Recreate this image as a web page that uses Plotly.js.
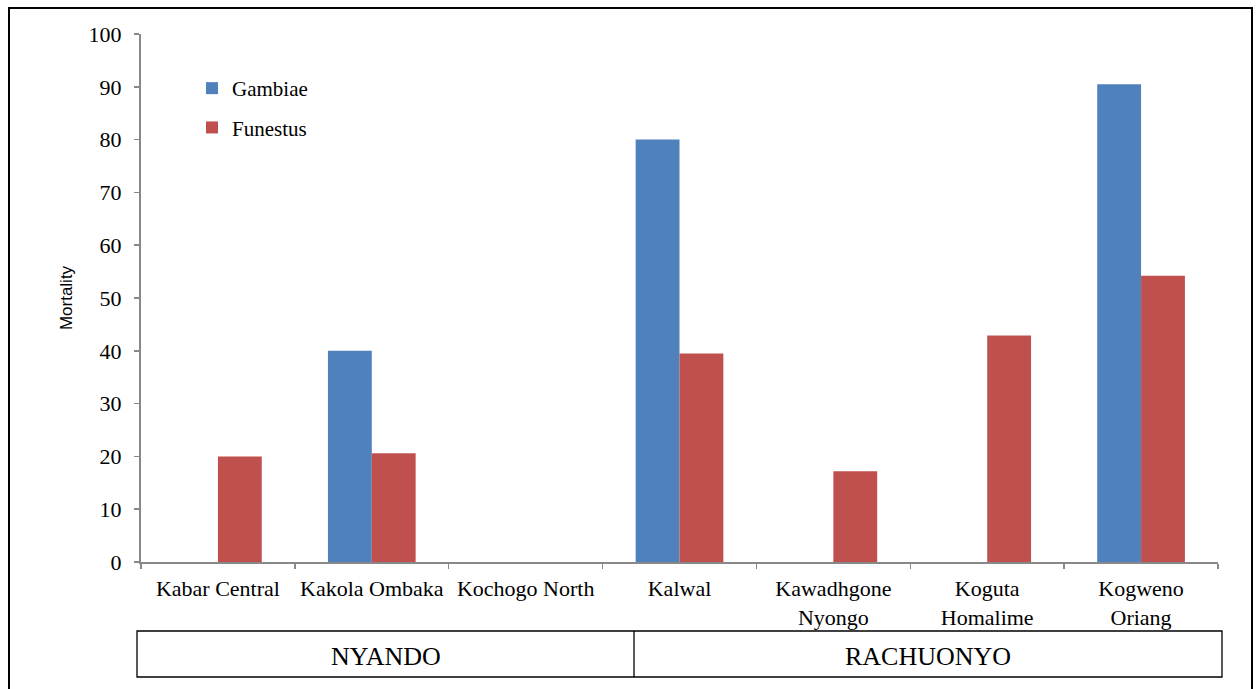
<!DOCTYPE html>
<html>
<head>
<meta charset="utf-8">
<script src="https://cdn.plot.ly/plotly-3.0.1.min.js"></script>
<style>html,body{margin:0;padding:0;background:#fff;}#chart{width:1257px;height:689px;}</style>
</head>
<body>
<div id="chart"></div>
<script>
var categories = ["Kabar Central", "Kakola Ombaka", "Kochogo North", "Kalwal", "Kawadhgone<br>Nyongo", "Koguta<br>Homalime", "Kogweno<br>Oriang"];
var gambiae = [0, 40.0, 0, 80.0, 0, 0, 90.5];
var funestus = [20.0, 20.6, 0, 39.5, 17.2, 42.9, 54.2];
var groups = ["NYANDO", "RACHUONYO"];
var yTicks = [0, 10, 20, 30, 40, 50, 60, 70, 80, 90, 100];

var serif = "Liberation Serif, Times New Roman, serif";
var W = 1257, H = 689;
var L = 141, R = 39, T = 34, B = 127;
var pw = W - L - R, ph = H - T - B;
function px(x) { return (x - L) / pw; }
function py(y) { return (H - B - y) / ph; }

var traces = [
  {type: "bar", name: "Gambiae", x: categories, y: gambiae, marker: {color: "#4F81BD"}, legendgroup: "g", hoverinfo: "x+y"},
  {type: "bar", name: "Funestus", x: categories, y: funestus, marker: {color: "#C0504D"}, legendgroup: "f", hoverinfo: "x+y"}
];

var shapes = [
  // outer chart border
  {type: "rect", xref: "paper", yref: "paper", x0: px(9), x1: px(1252), y0: py(720), y1: py(8), line: {color: "#000", width: 2}},
  // group table
  {type: "rect", xref: "paper", yref: "paper", x0: px(137), x1: px(1222), y0: py(677), y1: py(631), line: {color: "#000", width: 1.3}},
  {type: "line", xref: "paper", yref: "paper", x0: px(634), x1: px(634), y0: py(677), y1: py(631), line: {color: "#000", width: 1.3}}
];

var annotations = [
  {xref: "paper", yref: "paper", x: px((137 + 634) / 2), y: py(656), text: groups[0], showarrow: false, font: {family: serif, size: 26, color: "#000"}, xanchor: "center", yanchor: "middle"},
  {xref: "paper", yref: "paper", x: px((634 + 1222) / 2), y: py(656), text: groups[1], showarrow: false, font: {family: serif, size: 26, color: "#000"}, xanchor: "center", yanchor: "middle"}
];

var layout = {
  width: W, height: H,
  margin: {l: L, r: R, t: T, b: B, pad: 0},
  paper_bgcolor: "#fff", plot_bgcolor: "#fff",
  barmode: "group", bargap: 0.43, bargroupgap: 0,
  font: {family: serif, size: 22, color: "#000"},
  showlegend: true,
  legend: {x: px(192), y: py(68), xanchor: "left", yanchor: "top", bgcolor: "rgba(0,0,0,0)", font: {family: serif, size: 21, color: "#000"}, tracegroupgap: 9, traceorder: "grouped"},
  xaxis: {
    type: "category", showgrid: false, zeroline: false,
    showline: true, linecolor: "#888", linewidth: 2,
    ticks: "outside", tickson: "boundaries", ticklen: 5, tickcolor: "#888", tickwidth: 1.5,
    tickfont: {family: serif, size: 22, color: "#000"}, ticklabelstandoff: 6
  },
  yaxis: {
    range: [0, 100], tickvals: yTicks, showgrid: false, zeroline: false,
    showline: true, linecolor: "#888", linewidth: 2,
    ticks: "outside", ticklen: 5, tickcolor: "#888", tickwidth: 1.5,
    tickfont: {family: serif, size: 22, color: "#000"}, ticklabelstandoff: 8,
    title: {text: "Mortality", font: {family: "Liberation Sans, Arial, sans-serif", size: 17, color: "#000"}, standoff: 12}
  },
  shapes: shapes,
  annotations: annotations
};

Plotly.newPlot("chart", traces, layout, {displayModeBar: false, staticPlot: true});
</script>
</body>
</html>
